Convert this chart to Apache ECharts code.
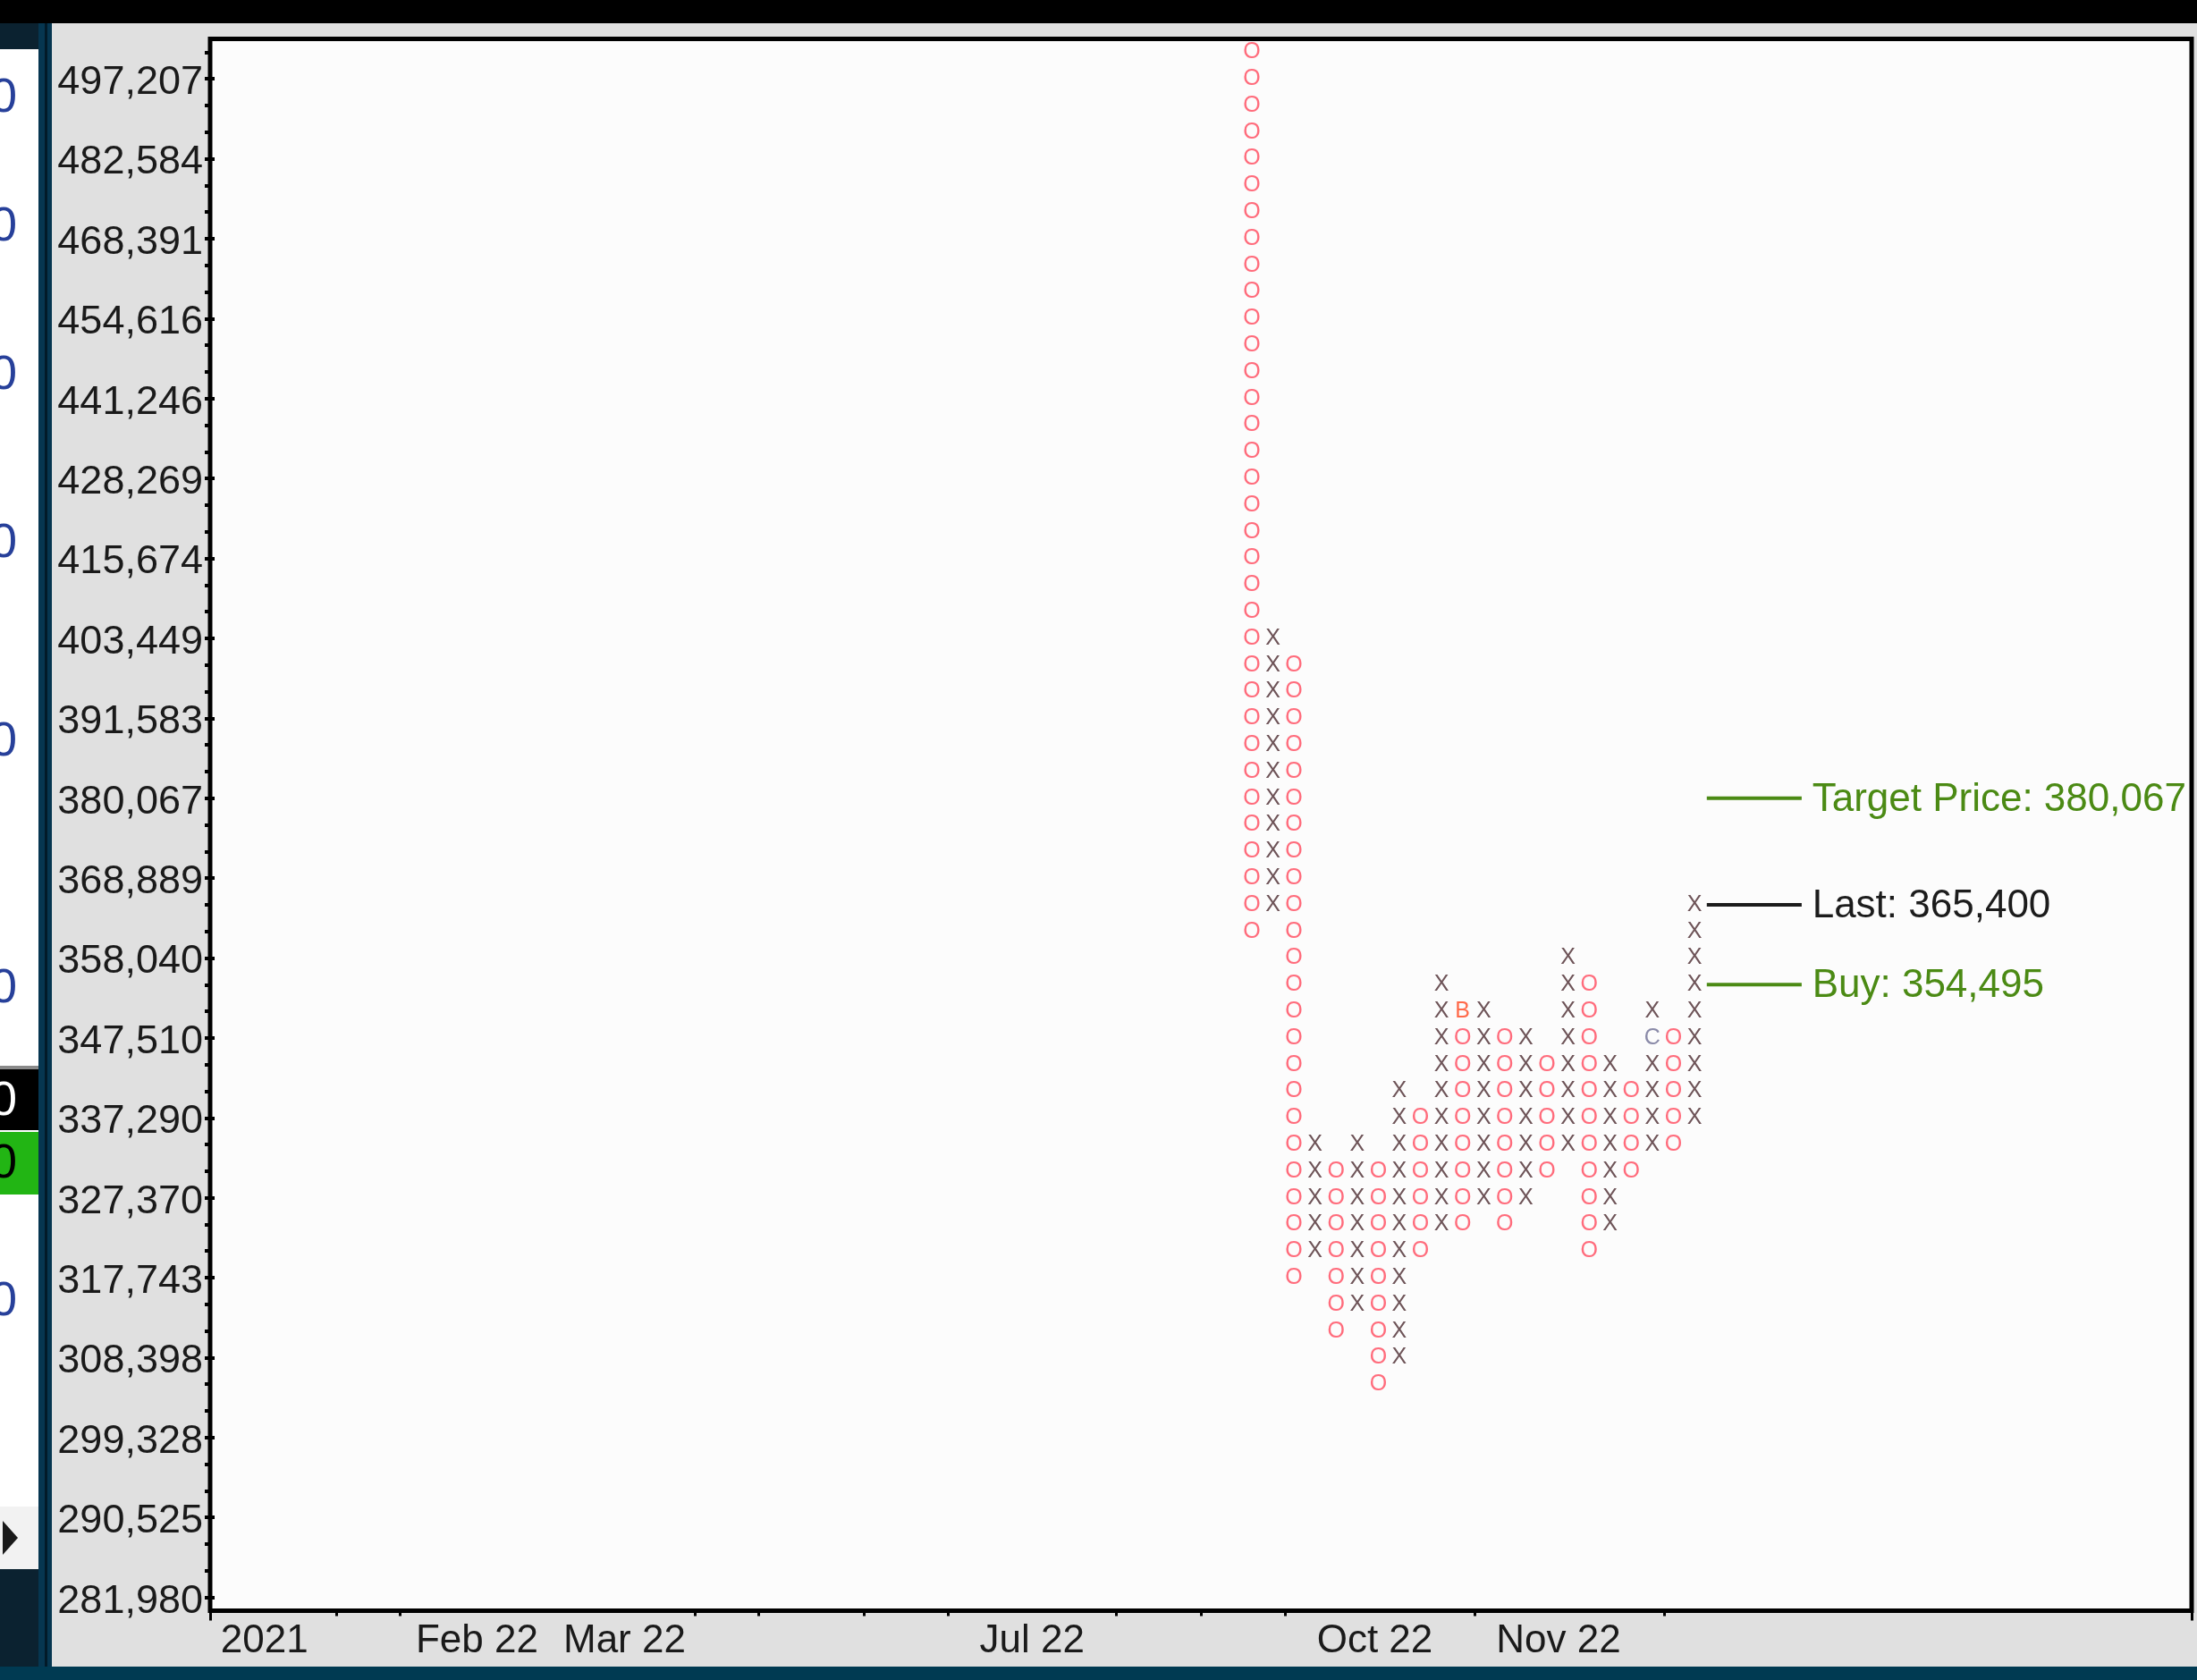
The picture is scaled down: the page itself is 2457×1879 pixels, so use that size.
<!DOCTYPE html>
<html>
<head>
<meta charset="utf-8">
<script src="https://cdn.jsdelivr.net/npm/echarts@6/dist/echarts.min.js"></script>
<style>
html,body{margin:0;padding:0;background:#e0e0e0;overflow:hidden;}
#chart{width:2457px;height:1879px;}
</style>
</head>
<body>
<div id="chart"></div>
<script>
// ---- Data (point & figure columns, box index k: price = box k on 1% log scale) ----
const colTypes = ['O','X','O','X','O','X','O','X','O','X','O','X','O','X','O','X','O','X','O','X','O','X'];
const colHigh  = [58, 36, 35, 17, 16, 17, 16, 19, 18, 23, 22, 22, 21, 21, 20, 24, 23, 20, 19, 22, 21, 26];
const colLow   = [25, 26, 12, 13, 10, 11,  8,  9, 13, 14, 14, 15, 14, 15, 16, 17, 13, 14, 16, 17, 17, 18];
const firstColSlot = 49;           // first column's slot on the time axis
const slotCount = 94;              // number of slots across the plot
const boxCount = 59;               // boxes 0..58

// month markers replacing a symbol
const markCols  = [10, 19];
const markBoxes = [22, 21];
const markTexts = ['B', 'C'];

// y-axis tick labels (every 3 boxes from box 0)
const yTickLabels = ['281,980','290,525','299,328','308,398','317,743','327,370','337,290',
  '347,510','358,040','368,889','380,067','391,583','403,449','415,674','428,269',
  '441,246','454,616','468,391','482,584','497,207'];

// x-axis labels and their slots, tick slots
const xLabels     = ['2021','Feb 22','Mar 22','Jul 22','Oct 22','Nov 22'];
const xLabelSlots = [0, 9, 16, 36, 52, 60];
const xLabelShift = ['s0', 's1', 's1', 's0', 's0', 's2'];
const xTickSlots  = [6, 9, 23, 26, 31, 35, 43, 47, 51, 60, 69];
const xLongTickSlots = [6];

// annotations
const annTexts  = ['Target Price: 380,067', 'Last: 365,400', 'Buy: 354,495'];
const annBoxes  = [30, 26, 23];
const annColors = ['#4b8a14', '#1c1c1c', '#4b8a14'];

// ---- build ----
const FONT = "'Liberation Sans',Arial,sans-serif";
const X_COLOR = '#6e5458';
const O_COLOR = '#ff6c7c';
const markColors = ['#ff6a4a', '#8a8aa8'];

const xCats = Array.from({length: slotCount}, (_, i) => String(i));
const yCats = Array.from({length: boxCount}, (_, i) => String(i));

const symData = [];
colTypes.forEach((t, c) => {
  for (let k = colLow[c]; k <= colHigh[c]; k++) {
    let ch = t, col = (t === 'X' ? X_COLOR : O_COLOR);
    for (let m = 0; m < markCols.length; m++) {
      if (markCols[m] === c && markBoxes[m] === k) { ch = markTexts[m]; col = markColors[m]; }
    }
    symData.push({value: [firstColSlot + c, k], ch: ch, color: col});
  }
});

const annData = annTexts.map((t, i) => ({value: [71, annBoxes[i]], txt: t, color: annColors[i]}));

const chart = echarts.init(document.getElementById('chart'), null, {renderer: 'canvas'});

const leftZeros = [
  {y: 110, c: '#27409a'}, {y: 254, c: '#27409a'}, {y: 420, c: '#27409a'},
  {y: 608, c: '#27409a'}, {y: 830, c: '#27409a'}, {y: 1106, c: '#27409a'},
  {y: 1232, c: '#ffffff'}, {y: 1302, c: '#000000'}, {y: 1456, c: '#27409a'}
];

const graphics = [
  {type: 'rect', shape: {x: 0, y: 0, width: 2457, height: 26}, style: {fill: '#000'}, silent: true},
  {type: 'rect', shape: {x: 0, y: 26, width: 43, height: 29}, style: {fill: '#0b2230'}, silent: true},
  {type: 'rect', shape: {x: 0, y: 55, width: 43, height: 1700}, style: {fill: '#ffffff'}, silent: true},
  {type: 'rect', shape: {x: 0, y: 1192, width: 43, height: 4}, style: {fill: '#8a8a8a'}, silent: true},
  {type: 'rect', shape: {x: 0, y: 1196, width: 43, height: 68}, style: {fill: '#000000'}, silent: true},
  {type: 'rect', shape: {x: 0, y: 1266, width: 43, height: 70}, style: {fill: '#22b514'}, silent: true},
  {type: 'rect', shape: {x: 0, y: 1685, width: 43, height: 70}, style: {fill: '#f2f2f2'}, silent: true},
  {type: 'polygon', shape: {points: [[3, 1701], [20, 1720], [3, 1739]]}, style: {fill: '#1a1a1a'}, silent: true},
  {type: 'rect', shape: {x: 0, y: 1755, width: 43, height: 124}, style: {fill: '#0b2230'}, silent: true},
  {type: 'rect', shape: {x: 43, y: 26, width: 15, height: 1853}, style: {fill: '#063650'}, silent: true},
  {type: 'rect', shape: {x: 50, y: 26, width: 3, height: 1853}, style: {fill: '#021a28'}, silent: true},
  {type: 'rect', shape: {x: 0, y: 1864, width: 2457, height: 15}, style: {fill: '#003a52'}, silent: true}
];
leftZeros.forEach(z => {
  graphics.push({type: 'text', x: 19, y: z.y, silent: true,
    style: {text: '0', fill: z.c, font: '54px ' + FONT, align: 'right', verticalAlign: 'middle'}});
});

const axisTextStyle = {color: '#1a1a1a', fontFamily: FONT};
const xRich = {
  s0: {fontSize: 44, fontFamily: FONT, color: '#1a1a1a', padding: [0, 0, 0, 0]},
  s1: {fontSize: 44, fontFamily: FONT, color: '#1a1a1a', padding: [0, 0, 0, 6]},
  s2: {fontSize: 44, fontFamily: FONT, color: '#1a1a1a', padding: [0, 0, 0, 12]}
};
const yRich = {
  p: {fontSize: 45, fontFamily: FONT, color: '#1a1a1a', padding: [9, 0, 0, 0]}
};

const option = {
  backgroundColor: '#e0e0e0',
  animation: false,
  graphic: graphics,
  grid: {
    left: 235, right: 6, top: 43.5, bottom: 77.5,
    show: true, backgroundColor: '#fcfcfc', borderColor: '#000', borderWidth: 5
  },
  xAxis: [
    {
      type: 'category', data: xCats, boundaryGap: true, position: 'bottom',
      axisLine: {show: false},
      axisTick: {show: true, alignWithLabel: false, length: 6,
        interval: (i) => xTickSlots.indexOf(i) >= 0,
        lineStyle: {color: '#000', width: 3}},
      axisLabel: {show: true, align: 'left', margin: 12,
        interval: (i) => xLabelSlots.indexOf(i) >= 0,
        formatter: (v) => {
          const j = xLabelSlots.indexOf(Number(v));
          return j >= 0 ? '{' + xLabelShift[j] + '|' + xLabels[j] + '}' : '';
        },
        rich: xRich,
        fontSize: 44, ...axisTextStyle},
      splitLine: {show: false}
    },
    {
      type: 'category', data: xCats, boundaryGap: true, position: 'bottom',
      axisLine: {show: false},
      axisTick: {show: true, alignWithLabel: false, length: 11,
        interval: (i) => xLongTickSlots.indexOf(i) >= 0,
        lineStyle: {color: '#000', width: 3}},
      axisLabel: {show: false}, splitLine: {show: false}
    }
  ],
  yAxis: [
    {
      type: 'category', data: yCats, boundaryGap: true, position: 'left',
      axisLine: {show: false},
      axisTick: {show: true, alignWithLabel: true, interval: 0, length: 6,
        lineStyle: {color: '#000', width: 4}},
      axisLabel: {show: true, interval: 2, margin: 8,
        formatter: (v) => { const k = Number(v); return k % 3 === 0 ? '{p|' + yTickLabels[k / 3] + '}' : ''; },
        rich: yRich,
        fontSize: 45, ...axisTextStyle},
      splitLine: {show: false}
    },
    {
      type: 'category', data: yCats, boundaryGap: true, position: 'left',
      axisLine: {show: false},
      axisTick: {show: true, inside: true, alignWithLabel: true, interval: 2, length: 5,
        lineStyle: {color: '#000', width: 4}},
      axisLabel: {show: false}, splitLine: {show: false}
    }
  ],
  series: [
    {
      type: 'custom', xAxisIndex: 0, yAxisIndex: 0,
      encode: {x: 0, y: 1},
      data: symData,
      renderItem: (params, api) => {
        const p = api.coord([api.value(0), api.value(1)]);
        const d = symData[params.dataIndex];
        return {type: 'text', x: p[0] - 2, y: p[1],
          style: {text: d.ch, fill: d.color, font: '25px ' + FONT, align: 'center', verticalAlign: 'middle'}};
      }
    },
    {
      type: 'custom', xAxisIndex: 0, yAxisIndex: 0,
      encode: {x: 0, y: 1},
      data: annData,
      renderItem: (params, api) => {
        const d = annData[params.dataIndex];
        const p = api.coord([api.value(0), api.value(1)]);
        const bw = api.size([1, 0])[0];
        const x0 = p[0] - bw / 2;
        const x1 = api.coord([75, api.value(1)])[0];
        const xt = api.coord([76, api.value(1)])[0] - bw / 2;
        return {type: 'group', children: [
          {type: 'line', shape: {x1: x0, y1: p[1], x2: x1, y2: p[1]},
            style: {stroke: d.color, lineWidth: 4}},
          {type: 'text', x: xt, y: p[1] + 2,
            style: {text: d.txt, fill: d.color, font: '44px ' + FONT, align: 'left', verticalAlign: 'middle'}}
        ]};
      }
    }
  ]
};
chart.setOption(option);
</script>
</body>
</html>
